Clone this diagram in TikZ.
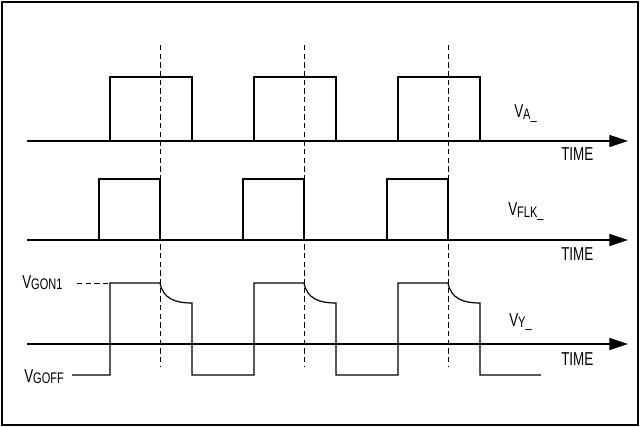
\documentclass[tikz,border=0pt]{standalone}
\usepackage{fontspec}
\setmainfont{Liberation Sans}[FakeStretch=0.72]
\usetikzlibrary{arrows.meta}
\newcommand{\sig}[1]{V\raisebox{-0.2ex}{\fontsize{11.5}{12}\selectfont #1}}

\begin{document}
\begin{tikzpicture}[x=0.75pt,y=-0.75pt,
  wave/.style={line width=0.9pt},
  axis/.style={line width=0.8pt,-{Triangle[length=14pt,width=9pt]}},
  guide/.style={line width=0.5pt,dash pattern=on 4pt off 2.5pt},
  lbl/.style={font=\fontsize{14}{16}\selectfont,inner sep=0pt,anchor=base west}]
  \useasboundingbox (0,0) rectangle (641,427);
  \draw[line width=0.8pt] (2,2) rectangle (638,425);
  % dashed guides
  \foreach \d in {160,304,448}
    \draw[guide] (\d,45) -- (\d,367);
  % time axes
  \foreach \y in {141,240,344}
    \draw[axis] (27,\y) -- (628,\y);
  % V_A and V_FLK
  \foreach \d in {160,304,448} {
    \draw[wave] (\d-50,141) |- (\d+32,77) -- (\d+32,141);
    \draw[wave] (\d-61,240) |- (\d,179) -- (\d,240);
  }
  % V_Y
  \draw[wave] (72,375) foreach \d in {160,304,448} {
    -- (\d-50,375) -- (\d-50,283) -- (\d,283)
    .. controls (\d+3,298) and (\d+14,303) .. (\d+32,303) -- (\d+32,375)
  } -- (541,375);
  \draw[guide] (77,283) -- (110,283);
  % labels
  \node[lbl] (va) at (514,118) {\sig{A\_}};
  \node[lbl] (vflk) at (508,216) {\sig{FLK\_}};
  \node[lbl] (vy) at (509,326) {\sig{Y\_}};
  \node[lbl] (gon) at (22,288) {\sig{GON1}};
  \node[lbl] (goff) at (24,382) {\sig{GOFF}};
  \foreach \y [count=\i] in {161,260,365}
    \node[lbl] (time\i) at (561,\y) {TIME};
\end{tikzpicture}
\end{document}
